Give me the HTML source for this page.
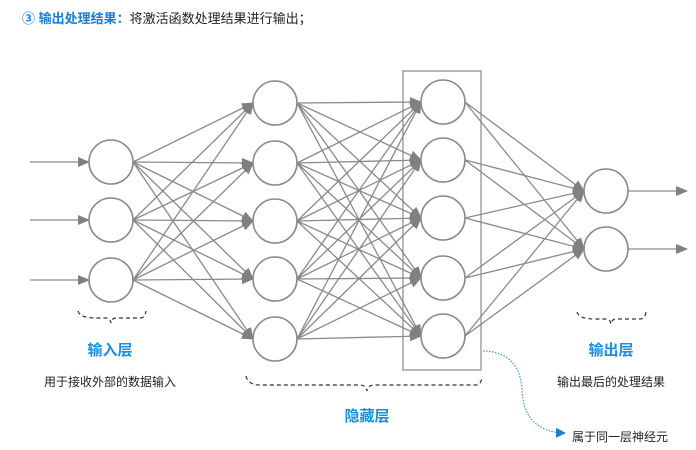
<!DOCTYPE html>
<html><head><meta charset="utf-8"><style>
body{margin:0;background:#fff;width:696px;height:445px;overflow:hidden;font-family:"Liberation Sans","Noto Sans CJK SC",sans-serif}
</style></head><body>
<svg width="696" height="445" xmlns="http://www.w3.org/2000/svg" font-family="Liberation Sans, Noto Sans CJK SC, sans-serif">
<defs>
<marker id="a" markerWidth="12" markerHeight="10" refX="11" refY="5" orient="auto" markerUnits="userSpaceOnUse"><path d="M0,0 L12,5 L0,10 z" fill="#808080"/></marker>
<marker id="b" markerWidth="10" markerHeight="10" refX="9" refY="5" orient="auto" markerUnits="userSpaceOnUse"><path d="M0,0 L10,5 L0,10 z" fill="#1a7fd0"/></marker>
</defs>
<text x="22" y="23" font-size="13"><tspan fill="#1a7fd0" font-weight="bold">③ 输出处理结果：</tspan><tspan fill="#222">将激活函数处理结果进行输出；</tspan></text>
<g id="lines" stroke="#8a8a8a" stroke-width="1.3" fill="none"></g>
<g id="nodes" stroke="#8a8a8a" stroke-width="1.6" fill="#fff"></g>
<rect x="403" y="71" width="78" height="299" fill="none" stroke="#8a8a8a" stroke-width="1.2"/>
<g fill="none" stroke="#333" stroke-width="1.2" stroke-dasharray="4,3">
<path d="M78,311 Q80,318 95,318 L106,318 Q110,318 111,323 Q112,318 116,318 L140,318 Q145,318 146,311"/>
<path d="M246,376 Q248,385 260,385 L360,385 Q366,385 367,391 Q368,385 374,385 L476,385 Q481,385 482,377"/>
<path d="M577,312 Q579,319 594,319 L606,319 Q610,319 611,324 Q612,319 616,319 L640,319 Q645,319 646,312"/>
</g>
<text x="110" y="355" font-size="15" font-weight="bold" fill="#1a8fdc" text-anchor="middle">输入层</text>
<text x="110" y="386" font-size="12" fill="#222" text-anchor="middle">用于接收外部的数据输入</text>
<text x="367" y="421" font-size="15" font-weight="bold" fill="#1a8fdc" text-anchor="middle">隐藏层</text>
<text x="611" y="355" font-size="15" font-weight="bold" fill="#1a8fdc" text-anchor="middle">输出层</text>
<text x="611" y="386" font-size="12" fill="#222" text-anchor="middle">输出最后的处理结果</text>
<path d="M483,351 Q520,352 522,390 Q524,432 565,433" fill="none" stroke="#3a9ae0" stroke-width="1.2" stroke-dasharray="1.5,1.5" marker-end="url(#b)"/>
<text x="572" y="441" font-size="12" fill="#222">属于同一层神经元</text>
</svg>
<script>
var L=document.getElementById('lines'),N=document.getElementById('nodes'),r=22,ns='http://www.w3.org/2000/svg';
var layers=[[111,[162,220,280]],[275,[103,163,221,279,339]],[443,[102,160,218,278,336]],[606,[191,249]]];
function line(x1,y1,x2,y2){var l=document.createElementNS(ns,'line');l.setAttribute('x1',x1);l.setAttribute('y1',y1);l.setAttribute('x2',x2);l.setAttribute('y2',y2);l.setAttribute('marker-end','url(#a)');L.appendChild(l);}
layers[0][1].forEach(function(y){line(30,y,89,y);});
layers[3][1].forEach(function(y){line(628,y,687,y);});
for(var i=0;i<3;i++){var A=layers[i],B=layers[i+1];A[1].forEach(function(y1){B[1].forEach(function(y2){line(A[0]+r,y1,B[0]-r,y2);});});}
layers.forEach(function(A){A[1].forEach(function(y){var c=document.createElementNS(ns,'circle');c.setAttribute('cx',A[0]);c.setAttribute('cy',y);c.setAttribute('r',r);N.appendChild(c);});});
</script>
</body></html>
